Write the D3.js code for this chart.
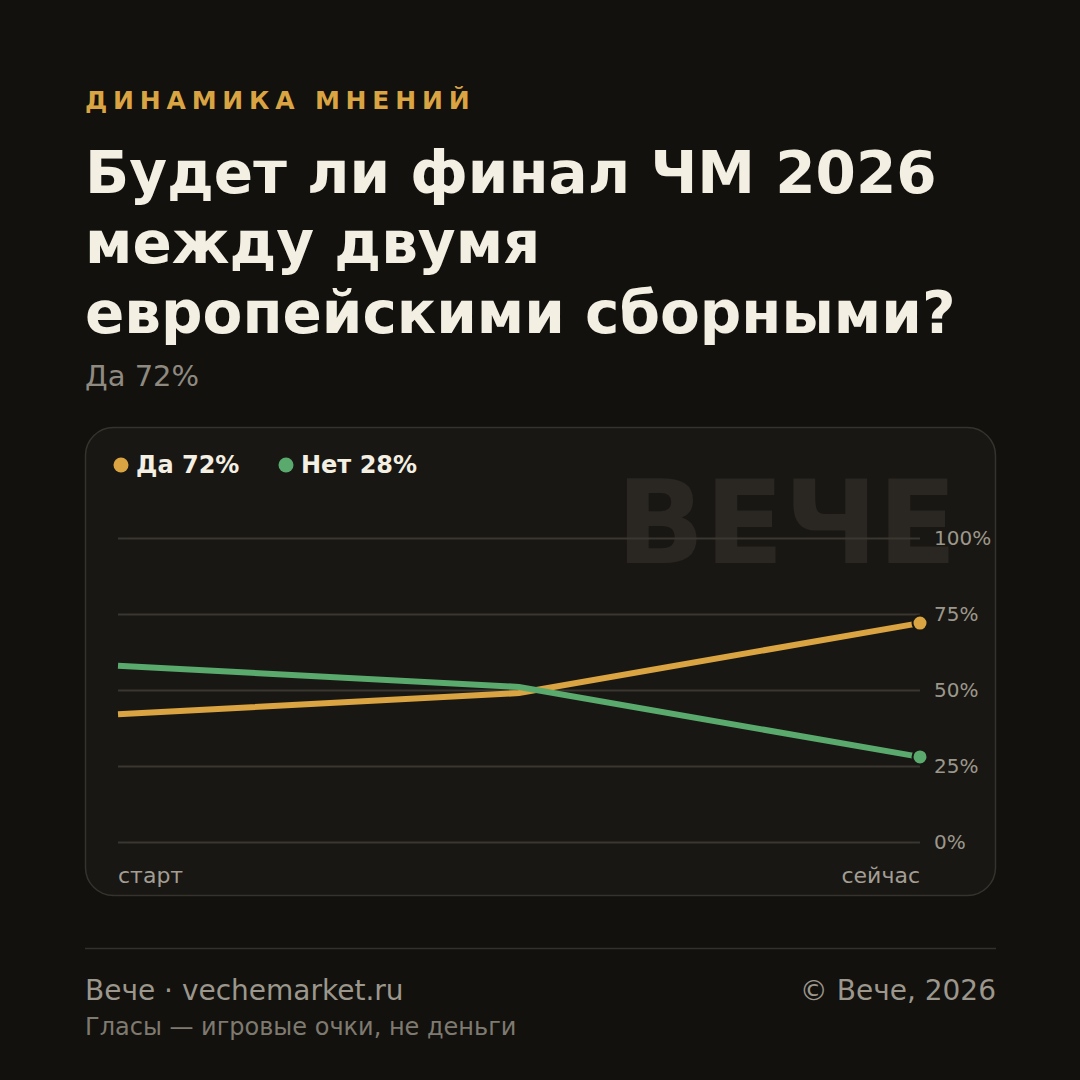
<!DOCTYPE html>
<html>
<head>
<meta charset="utf-8">
<script src="https://cdn.jsdelivr.net/npm/d3@7"></script>
<style>
  html, body { margin: 0; padding: 0; background: #12110e; }
  svg { display: block; font-family: "DejaVu Sans", sans-serif; }
</style>
</head>
<body>
<svg id="place" width="1080" height="1080"></svg>
<script>
// poll history: start, middle, now
var steps = [0, 1, 2];
var yes = [42, 49, 72];
var no = [58, 51, 28];
var ticks = [0, 25, 50, 75, 100];
var stepLabels = ["старт", "сейчас"];
var series = [
    { name: "Да", values: yes, color: "#d9a441" },
    { name: "Нет", values: no, color: "#5aaa6e" }
];

var svg = d3.select("#place");

svg.append("rect")
    .attr("width", 1080).attr("height", 1080)
    .attr("fill", "#12110e");

// header
svg.append("text")
    .attr("x", 85).attr("y", 109)
    .attr("fill", "#d9a441")
    .style("font-size", "25px")
    .style("font-weight", "bold")
    .style("letter-spacing", "5.8px")
    .text("ДИНАМИКА МНЕНИЙ");

var title = ["Будет ли финал ЧМ 2026", "между двумя", "европейскими сборными?"];
svg.append("g").selectAll("text")
    .data(title)
    .enter().append("text")
    .attr("x", 85)
    .attr("y", function(d, i) { return 193 + i * 70; })
    .attr("fill", "#f3efe2")
    .style("font-size", "58px")
    .style("font-weight", "bold")
    .text(function(d) { return d; });

svg.append("text")
    .attr("x", 85).attr("y", 386)
    .attr("fill", "#8f8a80")
    .style("font-size", "29px")
    .text("Да " + yes[yes.length - 1] + "%");

// card
svg.append("rect")
    .attr("x", 85.5).attr("y", 427.5)
    .attr("width", 910).attr("height", 468)
    .attr("rx", 28)
    .attr("fill", "#191713")
    .attr("stroke", "#36322c")
    .attr("stroke-width", 1.5);

// watermark
svg.append("text")
    .attr("x", 957).attr("y", 563)
    .attr("text-anchor", "end")
    .attr("fill", "#2a2722")
    .style("font-size", "116px")
    .style("font-weight", "bold")
    .text("ВЕЧЕ");

var x = d3.scaleLinear().domain([0, 2]).range([118, 920]);
var y = d3.scaleLinear().domain([0, 100]).range([842, 538]);

// grid + right labels
var yAxis = d3.axisRight(y)
    .tickValues(ticks)
    .tickSize(802)
    .tickFormat(function(d) { return d + "%"; });

var g = svg.append("g")
    .attr("transform", "translate(118,0)")
    .call(yAxis);
g.select(".domain").remove();
g.selectAll(".tick line")
    .attr("stroke", "#3a3630")
    .attr("stroke-width", 2);
g.selectAll(".tick text")
    .attr("x", 816)
    .attr("fill", "#9c978c")
    .style("font-size", "20px")
    .style("font-family", "DejaVu Sans, sans-serif");

// lines
var line = d3.line()
    .x(function(d, i) { return x(steps[i]); })
    .y(function(d) { return y(d); });

svg.append("g").selectAll("path")
    .data(series)
    .enter().append("path")
    .attr("d", function(d) { return line(d.values); })
    .attr("fill", "none")
    .attr("stroke", function(d) { return d.color; })
    .attr("stroke-width", 6);

svg.append("g").selectAll("circle")
    .data(series)
    .enter().append("circle")
    .attr("cx", x(steps[steps.length - 1]))
    .attr("cy", function(d) { return y(d.values[d.values.length - 1]); })
    .attr("r", 7.5)
    .attr("fill", function(d) { return d.color; })
    .attr("stroke", "#191713")
    .attr("stroke-width", 2);

// legend
var legendX = [121, 286];
var lg = svg.append("g").selectAll("g")
    .data(series)
    .enter().append("g")
    .attr("transform", function(d, i) { return "translate(" + legendX[i] + ",465)"; });
lg.append("circle")
    .attr("r", 7.5)
    .attr("fill", function(d) { return d.color; });
lg.append("text")
    .attr("x", 15).attr("y", 8)
    .attr("fill", "#f3efe2")
    .style("font-size", "24px")
    .style("font-weight", "bold")
    .text(function(d) { return d.name + " " + d.values[d.values.length - 1] + "%"; });

// x labels
svg.append("text")
    .attr("x", x(0)).attr("y", 883)
    .attr("fill", "#a39e94")
    .style("font-size", "22px")
    .text(stepLabels[0]);
svg.append("text")
    .attr("x", x(2)).attr("y", 883)
    .attr("text-anchor", "end")
    .attr("fill", "#a39e94")
    .style("font-size", "22px")
    .text(stepLabels[1]);

// footer
svg.append("line")
    .attr("x1", 85).attr("x2", 996)
    .attr("y1", 948.5).attr("y2", 948.5)
    .attr("stroke", "#34302a")
    .attr("stroke-width", 1.5);

svg.append("text")
    .attr("x", 85).attr("y", 1000)
    .attr("fill", "#9c978c")
    .style("font-size", "28px")
    .text("Вече · vechemarket.ru");
svg.append("text")
    .attr("x", 996).attr("y", 1000)
    .attr("text-anchor", "end")
    .attr("fill", "#9c978c")
    .style("font-size", "28px")
    .text("© Вече, 2026");
svg.append("text")
    .attr("x", 85).attr("y", 1035)
    .attr("fill", "#7f7a70")
    .style("font-size", "24px")
    .text("Гласы — игровые очки, не деньги");
</script>
</body>
</html>
